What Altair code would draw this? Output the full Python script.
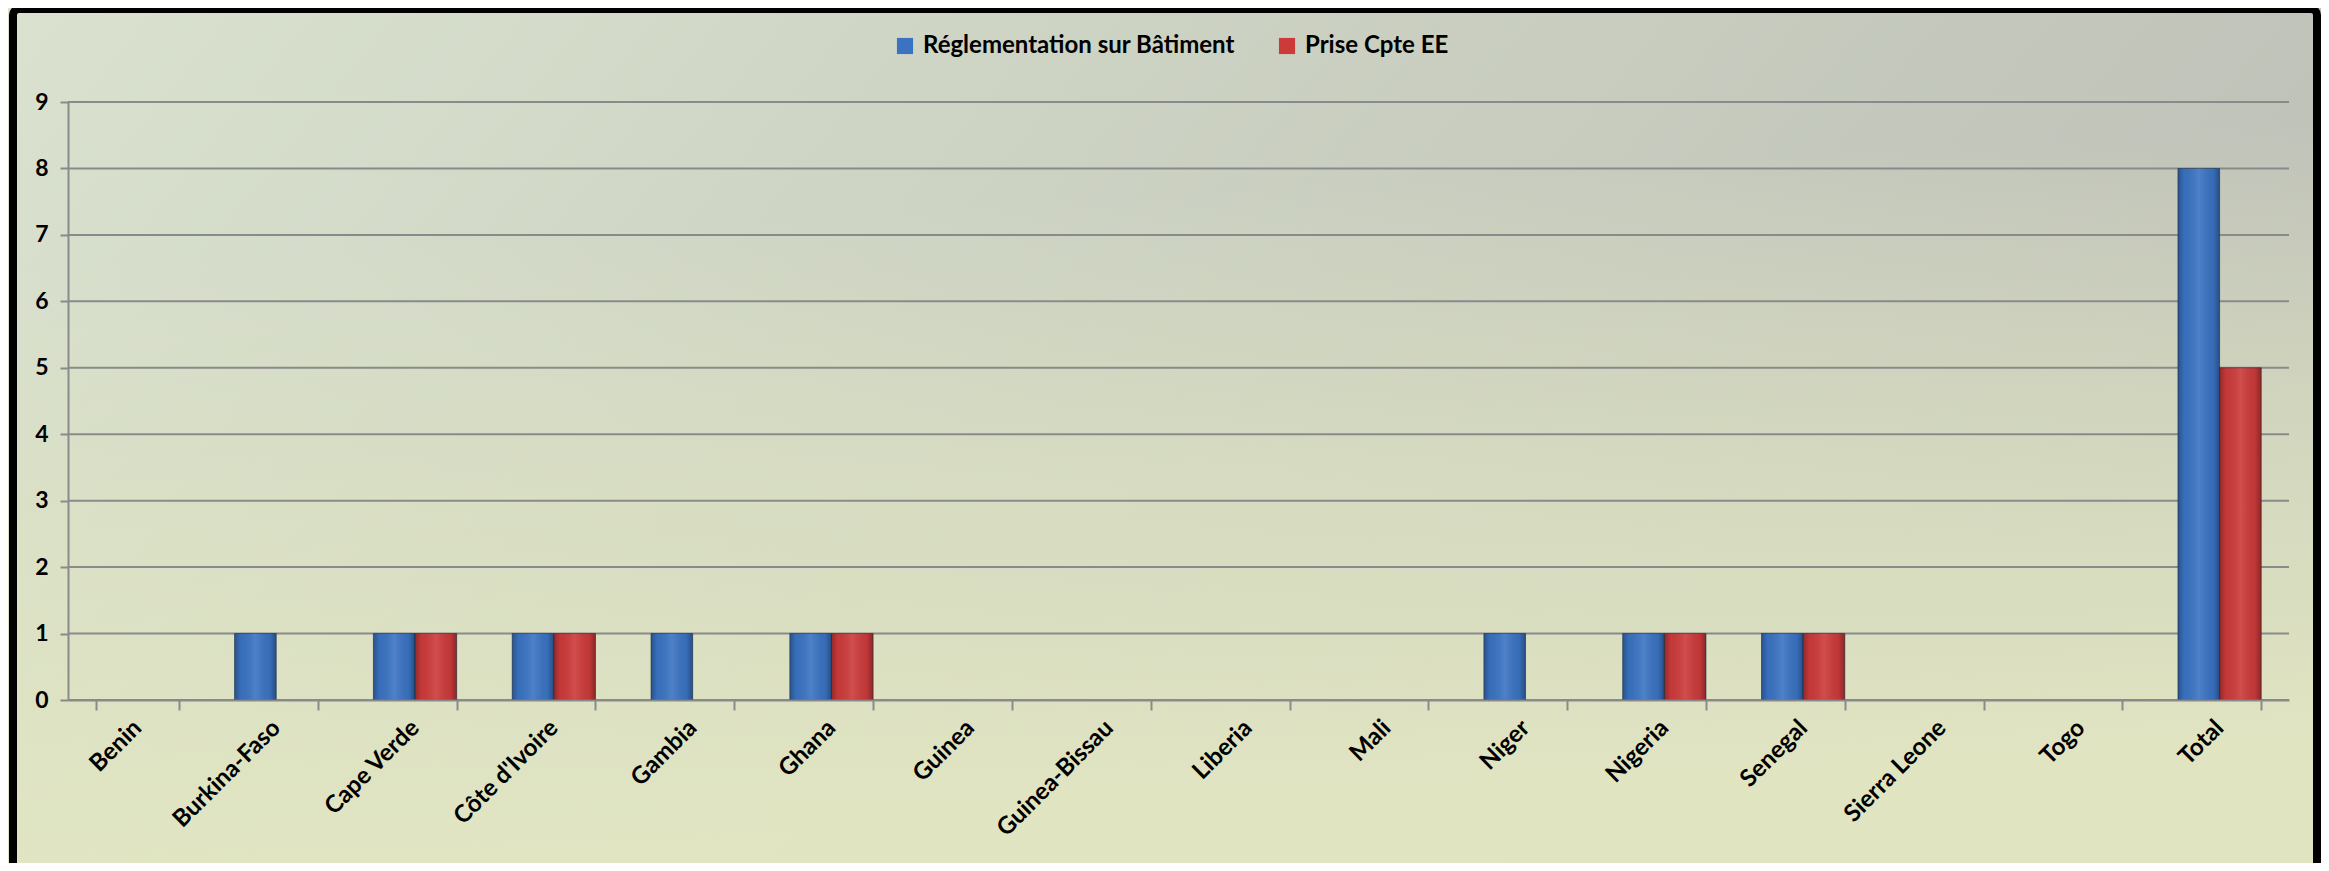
import altair as alt
import pandas as pd

countries = ["Benin", "Burkina-Faso", "Cape Verde", "Côte d'Ivoire", "Gambia", "Ghana",
             "Guinea", "Guinea-Bissau", "Liberia", "Mali", "Niger", "Nigeria", "Senegal",
             "Sierra Leone", "Togo", "Total"]
series_names = ["Réglementation sur Bâtiment", "Prise Cpte EE"]
reglementation = [0, 1, 1, 1, 1, 1, 0, 0, 0, 0, 1, 1, 1, 0, 0, 8]
prise_cpte = [0, 0, 1, 1, 0, 1, 0, 0, 0, 0, 0, 1, 1, 0, 0, 5]
y_ticks = [0, 1, 2, 3, 4, 5, 6, 7, 8, 9]
colors = ["#3a73c2", "#cc3a3a"]

rows = []
for c, a, b in zip(countries, reglementation, prise_cpte):
    rows.append({"country": c, "series": series_names[0], "value": a})
    rows.append({"country": c, "series": series_names[1], "value": b})
df = pd.DataFrame(rows)
bars_df = df[df["value"] > 0]

W, H = 2221, 598
PL, PT = 60, 94
PR = 2313 - PL - W
PB = 855 - PT - H

x_enc = alt.X("country:N", sort=countries,
              scale=alt.Scale(domain=countries, paddingInner=0.4, paddingOuter=0.2),
              axis=alt.Axis(title=None, labelAngle=-45, labelAlign="right", labelBaseline="middle",
                            labelFontSize=24, labelFontWeight="bold", labelFont="Lato",
                            labelColor="black", tickBand="extent", tickSize=10, tickColor="#8a8a8a",
                            tickWidth=2, domainColor="#8a8a8a", domainWidth=2, labelPadding=14,
                            labelLimit=0, grid=False, zindex=1))
xo_enc = alt.XOffset("series:N", sort=series_names,
                     scale=alt.Scale(domain=series_names, paddingInner=0, paddingOuter=0))
y_enc = alt.Y("value:Q", scale=alt.Scale(domain=[0, 9], nice=False),
              axis=alt.Axis(values=y_ticks, format="d", grid=False, title=None, tickSize=8,
                            tickWidth=2, labelPadding=12, labelFontSize=23, labelFontWeight="bold",
                            labelFont="Lato", labelColor="black", domainColor="#8a8a8a",
                            domainWidth=2, tickColor="#8a8a8a", zindex=1))

bg_base = alt.LinearGradient(
    gradient="linear", x1=0, y1=0, x2=1, y2=0.3,
    stops=[alt.GradientStop(offset=0, color="#dae2cf"),
           alt.GradientStop(offset=0.45, color="#cdd3c3"),
           alt.GradientStop(offset=1, color="#bec1b8")])
bg_lower = alt.LinearGradient(
    gradient="linear", x1=0, y1=0.3, x2=0.12, y2=1,
    stops=[alt.GradientStop(offset=0, color="rgba(226,230,194,0)"),
           alt.GradientStop(offset=0.45, color="rgba(224,229,194,0.55)"),
           alt.GradientStop(offset=1, color="rgba(226,230,194,0.95)")])

one = pd.DataFrame({"a": [0]})
background = alt.Chart(one).mark_rect(fill=bg_base).encode(
    x=alt.value(-PL), x2=alt.value(W + PR), y=alt.value(-PT), y2=alt.value(H + PB))
background2 = alt.Chart(one).mark_rect(fill=bg_lower).encode(
    x=alt.value(-PL), x2=alt.value(W + PR), y=alt.value(-PT), y2=alt.value(H + PB))

grid = alt.Chart(pd.DataFrame({"tick": y_ticks})).mark_rule(color="#8a8a8a", strokeWidth=2).encode(
    y=alt.Y("tick:Q", scale=alt.Scale(domain=[0, 9], nice=False)))

bars = alt.Chart(bars_df).mark_bar(stroke="#1f3550", strokeWidth=1, strokeOpacity=0.6).encode(
    x=x_enc, xOffset=xo_enc, y=y_enc,
    color=alt.Color("series:N", sort=series_names,
                    scale=alt.Scale(domain=series_names, range=colors),
                    legend=alt.Legend(title=None, orient="none", legendX=825, legendY=-68,
                                      direction="horizontal", symbolType="square", symbolSize=260,
                                      symbolStrokeWidth=0, labelFontSize=24, labelFontWeight="bold",
                                      labelFont="Lato", labelColor="black", columnPadding=40,
                                      labelOffset=6, labelLimit=0, zindex=1)))

shine = alt.LinearGradient(
    gradient="linear", x1=0, y1=0, x2=1, y2=0,
    stops=[alt.GradientStop(offset=0, color="rgba(0,0,0,0.28)"),
           alt.GradientStop(offset=0.15, color="rgba(0,0,0,0.04)"),
           alt.GradientStop(offset=0.5, color="rgba(255,255,255,0.10)"),
           alt.GradientStop(offset=0.85, color="rgba(0,0,0,0.06)"),
           alt.GradientStop(offset=1, color="rgba(0,0,0,0.32)")])

overlay = alt.Chart(bars_df).mark_bar(fill=shine).encode(x=x_enc, xOffset=xo_enc, y=y_enc)

border = alt.Chart(one).mark_rect(
    fillOpacity=0, stroke="black", strokeWidth=8, cornerRadius=6).encode(
    x=alt.value(13 - 68), x2=alt.value(2317 - 68), y=alt.value(9 - 102), y2=alt.value(H + PB + 20))

chart = alt.layer(background, background2, grid, bars, overlay, border).properties(
    width=W, height=H,
    autosize=alt.AutoSizeParams(type="none"),
    padding={"left": PL, "top": PT, "right": PR, "bottom": PB},
).configure(background="#d5dbc8").configure_view(stroke=None)

chart.save("out.html", embed_options={"renderer": "svg", "actions": False})
